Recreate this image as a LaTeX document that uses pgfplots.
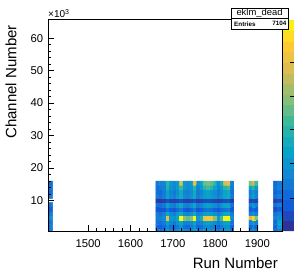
\documentclass[border=0pt]{standalone}
\usepackage{pgfplots}
\pgfplotsset{compat=1.18}
\usepackage{fontspec}
\setmainfont{Liberation Sans}
\pgfplotsset{colormap={bird}{rgb=(0.2082,0.1664,0.5293) rgb=(0.0592,0.3599,0.8684) rgb=(0.0780,0.5041,0.8385) rgb=(0.0232,0.6419,0.7914) rgb=(0.1802,0.7178,0.6425) rgb=(0.5301,0.7492,0.4662) rgb=(0.8186,0.7328,0.3499) rgb=(0.9956,0.7862,0.1968) rgb=(0.9764,0.9832,0.0539)}}
\begin{document}
\begin{tikzpicture}
\begin{axis}[
  name=main,
  scale only axis, width=234pt, height=211pt,
  xmin=1405, xmax=1958, ymin=0.6, ymax=65.6,
  xtick={1500,1600,1700,1800,1900}, minor x tick num=4,
  ytick={10,20,30,40,50,60}, minor y tick num=4,
  tick align=inside, tick pos=left,
  major tick length=6pt, minor tick length=3pt,
  axis line style={line width=1pt},
  tick style={black, line width=0.5pt},
  axis on top,
  colormap name=bird,
  point meta min=-0.06, point meta max=1,
  /pgf/number format/assume math mode=true,
  /pgf/number format/1000 sep={},
  scaled y ticks=false,
  xticklabel style={font=\fontsize{11.3}{12}\selectfont, anchor=base, inner sep=0pt, yshift=-16.5pt},
  yticklabel style={font=\fontsize{11.3}{12}\selectfont, anchor=east, inner sep=0pt, xshift=-4.7pt},
  colorbar, colorbar sampled,
  colorbar style={
    at={(parent axis.north east)}, anchor=north west, xshift=-7.5pt,
    scale only axis, width=14pt, height=211pt,
    samples=21,
    ytick={0.105,0.279,0.449,0.618,0.788}, yticklabels={},
    ytick pos=right, tick align=inside, major tick length=7pt,
    axis line style={draw=none},
    tick style={black, line width=0.5pt},
    xtick=\empty,
  },
]
% main block (runs 1660-1844)
\addplot[matrix plot*, mesh/cols=23, point meta=explicit] coordinates {
(1664,0.667)[0.16] (1672,0.667)[0.14] (1680,0.667)[0.18] (1688,0.667)[0.30] (1696,0.667)[0.22] (1704,0.667)[0.18] (1712,0.667)[0.25] (1720,0.667)[0.32] (1728,0.667)[0.22] (1736,0.667)[0.20] (1744,0.667)[0.24] (1752,0.667)[0.32] (1760,0.667)[0.18] (1768,0.667)[0.22] (1776,0.667)[0.28] (1784,0.667)[0.30] (1792,0.667)[0.28] (1800,0.667)[0.24] (1808,0.667)[0.18] (1816,0.667)[0.24] (1824,0.667)[0.30] (1832,0.667)[0.32] (1840,0.667)[0.16]
(1664,2.0)[0.10] (1672,2.0)[0.08] (1680,2.0)[0.12] (1688,2.0)[0.25] (1696,2.0)[0.15] (1704,2.0)[0.12] (1712,2.0)[0.18] (1720,2.0)[0.28] (1728,2.0)[0.15] (1736,2.0)[0.12] (1744,2.0)[0.18] (1752,2.0)[0.28] (1760,2.0)[0.12] (1768,2.0)[0.15] (1776,2.0)[0.22] (1784,2.0)[0.25] (1792,2.0)[0.22] (1800,2.0)[0.18] (1808,2.0)[0.12] (1816,2.0)[0.18] (1824,2.0)[0.26] (1832,2.0)[0.28] (1840,2.0)[0.10]
(1664,3.333)[0.16] (1672,3.333)[0.14] (1680,3.333)[0.18] (1688,3.333)[0.34] (1696,3.333)[0.22] (1704,3.333)[0.18] (1712,3.333)[0.26] (1720,3.333)[0.35] (1728,3.333)[0.22] (1736,3.333)[0.20] (1744,3.333)[0.25] (1752,3.333)[0.35] (1760,3.333)[0.18] (1768,3.333)[0.22] (1776,3.333)[0.30] (1784,3.333)[0.32] (1792,3.333)[0.30] (1800,3.333)[0.25] (1808,3.333)[0.18] (1816,3.333)[0.25] (1824,3.333)[0.33] (1832,3.333)[0.35] (1840,3.333)[0.16]
(1664,4.667)[0.20] (1672,4.667)[0.20] (1680,4.667)[0.25] (1688,4.667)[0.80] (1696,4.667)[0.30] (1704,4.667)[0.28] (1712,4.667)[0.35] (1720,4.667)[1.00] (1728,4.667)[0.60] (1736,4.667)[0.55] (1744,4.667)[0.60] (1752,4.667)[1.00] (1760,4.667)[0.30] (1768,4.667)[0.40] (1776,4.667)[0.82] (1784,4.667)[0.85] (1792,4.667)[0.82] (1800,4.667)[0.60] (1808,4.667)[0.30] (1816,4.667)[0.50] (1824,4.667)[0.98] (1832,4.667)[1.00] (1840,4.667)[0.25]
(1664,6.0)[0.18] (1672,6.0)[0.15] (1680,6.0)[0.20] (1688,6.0)[0.36] (1696,6.0)[0.25] (1704,6.0)[0.20] (1712,6.0)[0.30] (1720,6.0)[0.38] (1728,6.0)[0.25] (1736,6.0)[0.22] (1744,6.0)[0.28] (1752,6.0)[0.38] (1760,6.0)[0.20] (1768,6.0)[0.25] (1776,6.0)[0.32] (1784,6.0)[0.35] (1792,6.0)[0.32] (1800,6.0)[0.28] (1808,6.0)[0.20] (1816,6.0)[0.28] (1824,6.0)[0.36] (1832,6.0)[0.38] (1840,6.0)[0.18]
(1664,7.333)[0.06] (1672,7.333)[0.05] (1680,7.333)[0.06] (1688,7.333)[0.16] (1696,7.333)[0.08] (1704,7.333)[0.06] (1712,7.333)[0.12] (1720,7.333)[0.18] (1728,7.333)[0.08] (1736,7.333)[0.06] (1744,7.333)[0.10] (1752,7.333)[0.18] (1760,7.333)[0.06] (1768,7.333)[0.08] (1776,7.333)[0.14] (1784,7.333)[0.16] (1792,7.333)[0.14] (1800,7.333)[0.10] (1808,7.333)[0.06] (1816,7.333)[0.12] (1824,7.333)[0.16] (1832,7.333)[0.18] (1840,7.333)[0.06]
(1664,8.667)[0.16] (1672,8.667)[0.14] (1680,8.667)[0.18] (1688,8.667)[0.34] (1696,8.667)[0.22] (1704,8.667)[0.18] (1712,8.667)[0.28] (1720,8.667)[0.36] (1728,8.667)[0.22] (1736,8.667)[0.20] (1744,8.667)[0.26] (1752,8.667)[0.36] (1760,8.667)[0.18] (1768,8.667)[0.22] (1776,8.667)[0.30] (1784,8.667)[0.33] (1792,8.667)[0.30] (1800,8.667)[0.25] (1808,8.667)[0.18] (1816,8.667)[0.26] (1824,8.667)[0.34] (1832,8.667)[0.36] (1840,8.667)[0.16]
(1664,10.0)[-0.02] (1672,10.0)[-0.03] (1680,10.0)[-0.01] (1688,10.0)[0.04] (1696,10.0)[0.00] (1704,10.0)[-0.01] (1712,10.0)[0.01] (1720,10.0)[0.04] (1728,10.0)[0.00] (1736,10.0)[-0.01] (1744,10.0)[0.01] (1752,10.0)[0.04] (1760,10.0)[-0.01] (1768,10.0)[0.00] (1776,10.0)[0.02] (1784,10.0)[0.03] (1792,10.0)[0.02] (1800,10.0)[0.01] (1808,10.0)[-0.01] (1816,10.0)[0.01] (1824,10.0)[0.03] (1832,10.0)[0.04] (1840,10.0)[-0.02]
(1664,11.333)[0.18] (1672,11.333)[0.15] (1680,11.333)[0.20] (1688,11.333)[0.35] (1696,11.333)[0.25] (1704,11.333)[0.20] (1712,11.333)[0.30] (1720,11.333)[0.38] (1728,11.333)[0.25] (1736,11.333)[0.22] (1744,11.333)[0.28] (1752,11.333)[0.38] (1760,11.333)[0.20] (1768,11.333)[0.25] (1776,11.333)[0.32] (1784,11.333)[0.35] (1792,11.333)[0.32] (1800,11.333)[0.28] (1808,11.333)[0.20] (1816,11.333)[0.28] (1824,11.333)[0.36] (1832,11.333)[0.38] (1840,11.333)[0.18]
(1664,12.667)[0.15] (1672,12.667)[0.12] (1680,12.667)[0.18] (1688,12.667)[0.35] (1696,12.667)[0.22] (1704,12.667)[0.18] (1712,12.667)[0.25] (1720,12.667)[0.38] (1728,12.667)[0.22] (1736,12.667)[0.20] (1744,12.667)[0.25] (1752,12.667)[0.38] (1760,12.667)[0.18] (1768,12.667)[0.22] (1776,12.667)[0.30] (1784,12.667)[0.35] (1792,12.667)[0.30] (1800,12.667)[0.25] (1808,12.667)[0.18] (1816,12.667)[0.25] (1824,12.667)[0.35] (1832,12.667)[0.38] (1840,12.667)[0.15]
(1664,14.0)[0.15] (1672,14.0)[0.18] (1680,14.0)[0.20] (1688,14.0)[0.42] (1696,14.0)[0.28] (1704,14.0)[0.22] (1712,14.0)[0.30] (1720,14.0)[0.48] (1728,14.0)[0.30] (1736,14.0)[0.25] (1744,14.0)[0.28] (1752,14.0)[0.45] (1760,14.0)[0.22] (1768,14.0)[0.30] (1776,14.0)[0.45] (1784,14.0)[0.50] (1792,14.0)[0.45] (1800,14.0)[0.35] (1808,14.0)[0.22] (1816,14.0)[0.30] (1824,14.0)[0.45] (1832,14.0)[0.50] (1840,14.0)[0.18]
(1664,15.333)[0.18] (1672,15.333)[0.20] (1680,15.333)[0.22] (1688,15.333)[0.45] (1696,15.333)[0.30] (1704,15.333)[0.25] (1712,15.333)[0.30] (1720,15.333)[0.78] (1728,15.333)[0.30] (1736,15.333)[0.25] (1744,15.333)[0.30] (1752,15.333)[0.80] (1760,15.333)[0.25] (1768,15.333)[0.35] (1776,15.333)[0.55] (1784,15.333)[0.58] (1792,15.333)[0.55] (1800,15.333)[0.45] (1808,15.333)[0.25] (1816,15.333)[0.40] (1824,15.333)[0.75] (1832,15.333)[0.78] (1840,15.333)[0.20]
};
% block near run 1890
\addplot[matrix plot*, mesh/cols=3, point meta=explicit] coordinates {
(1883.5,0.667)[0.20] (1890.5,0.667)[0.30] (1897.5,0.667)[0.20]
(1883.5,2.0)[0.10] (1890.5,2.0)[0.20] (1897.5,2.0)[0.10]
(1883.5,3.333)[0.20] (1890.5,3.333)[0.30] (1897.5,3.333)[0.20]
(1883.5,4.667)[0.75] (1890.5,4.667)[0.90] (1897.5,4.667)[0.60]
(1883.5,6.0)[0.20] (1890.5,6.0)[0.30] (1897.5,6.0)[0.20]
(1883.5,7.333)[0.08] (1890.5,7.333)[0.12] (1897.5,7.333)[0.08]
(1883.5,8.667)[0.20] (1890.5,8.667)[0.30] (1897.5,8.667)[0.20]
(1883.5,10.0)[0.00] (1890.5,10.0)[0.03] (1897.5,10.0)[0.00]
(1883.5,11.333)[0.25] (1890.5,11.333)[0.35] (1897.5,11.333)[0.22]
(1883.5,12.667)[0.20] (1890.5,12.667)[0.30] (1897.5,12.667)[0.20]
(1883.5,14.0)[0.35] (1890.5,14.0)[0.45] (1897.5,14.0)[0.30]
(1883.5,15.333)[0.60] (1890.5,15.333)[0.72] (1897.5,15.333)[0.50]
};
% block near run 1950
\addplot[matrix plot*, mesh/cols=2, point meta=explicit] coordinates {
(1942.5,0.667)[0.15] (1952.5,0.667)[0.20]
(1942.5,2.0)[0.10] (1952.5,2.0)[0.30]
(1942.5,3.333)[0.12] (1952.5,3.333)[0.35]
(1942.5,4.667)[0.20] (1952.5,4.667)[0.25]
(1942.5,6.0)[0.15] (1952.5,6.0)[0.20]
(1942.5,7.333)[0.03] (1952.5,7.333)[0.08]
(1942.5,8.667)[0.15] (1952.5,8.667)[0.20]
(1942.5,10.0)[-0.01] (1952.5,10.0)[0.02]
(1942.5,11.333)[0.15] (1952.5,11.333)[0.20]
(1942.5,12.667)[0.10] (1952.5,12.667)[0.15]
(1942.5,14.0)[0.15] (1952.5,14.0)[0.20]
(1942.5,15.333)[0.12] (1952.5,15.333)[0.18]
};
% left block (lower part)
\addplot[matrix plot*, mesh/cols=2, point meta=explicit] coordinates {
(1407,0.667)[0.12] (1413,0.667)[0.20]
(1407,2.0)[0.15] (1413,2.0)[0.22]
(1407,3.333)[0.10] (1413,3.333)[0.18]
(1407,4.667)[0.20] (1413,4.667)[0.28]
(1407,6.0)[0.12] (1413,6.0)[0.20]
(1407,7.333)[0.06] (1413,7.333)[0.10]
(1407,8.667)[0.12] (1413,8.667)[0.18]
};
% left block (upper part)
\addplot[matrix plot*, mesh/cols=2, point meta=explicit] coordinates {
(1407,11.333)[0.12] (1413,11.333)[0.20]
(1407,12.667)[0.10] (1413,12.667)[0.15]
(1407,14.0)[0.12] (1413,14.0)[0.18]
(1407,15.333)[0.10] (1413,15.333)[0.15]
};
\end{axis}
% axis titles
\node[rotate=90, anchor=base east, inner sep=0pt, font=\fontsize{15}{17}\selectfont] at ([xshift=-31.5pt,yshift=-5pt]main.north west) {Channel Number};
\node[anchor=base east, inner sep=0pt, font=\fontsize{15}{17}\selectfont] at ([xshift=-4pt,yshift=-37pt]main.south east) {Run Number};
\node[anchor=base west, inner sep=0pt, font=\fontsize{10}{11}\selectfont] at ([xshift=0pt,yshift=2pt]main.north west) {×10\textsuperscript{3}};
% statistics box
\fill[black] ([xshift=-50pt,yshift=-10pt]main.north east) rectangle ([xshift=7pt,yshift=11pt]main.north east);
\filldraw[fill=white, draw=black, line width=0.6pt] ([xshift=-51pt,yshift=-9pt]main.north east) rectangle ([xshift=6pt,yshift=12pt]main.north east);
\draw[line width=0.5pt] ([xshift=-51pt,yshift=1.5pt]main.north east) -- ([xshift=6pt,yshift=1.5pt]main.north east);
\node[anchor=center, inner sep=0pt, font=\fontsize{9.4}{10}\selectfont] at ([xshift=-22.5pt,yshift=6.8pt]main.north east) {eklm\_dead};
\node[anchor=west, inner sep=0pt, font=\bfseries\fontsize{6.3}{7}\selectfont] at ([xshift=-48pt,yshift=-3.8pt]main.north east) {Entries};
\node[anchor=east, inner sep=0pt, font=\bfseries\fontsize{6.3}{7}\selectfont] at ([xshift=4.5pt,yshift=-3.8pt]main.north east) {7104};
% picture frame
\pgfresetboundingbox
\path[use as bounding box] ([xshift=-48pt,yshift=-40pt]main.south west) rectangle ([xshift=12pt,yshift=20pt]main.north east);
\end{tikzpicture}
\end{document}
